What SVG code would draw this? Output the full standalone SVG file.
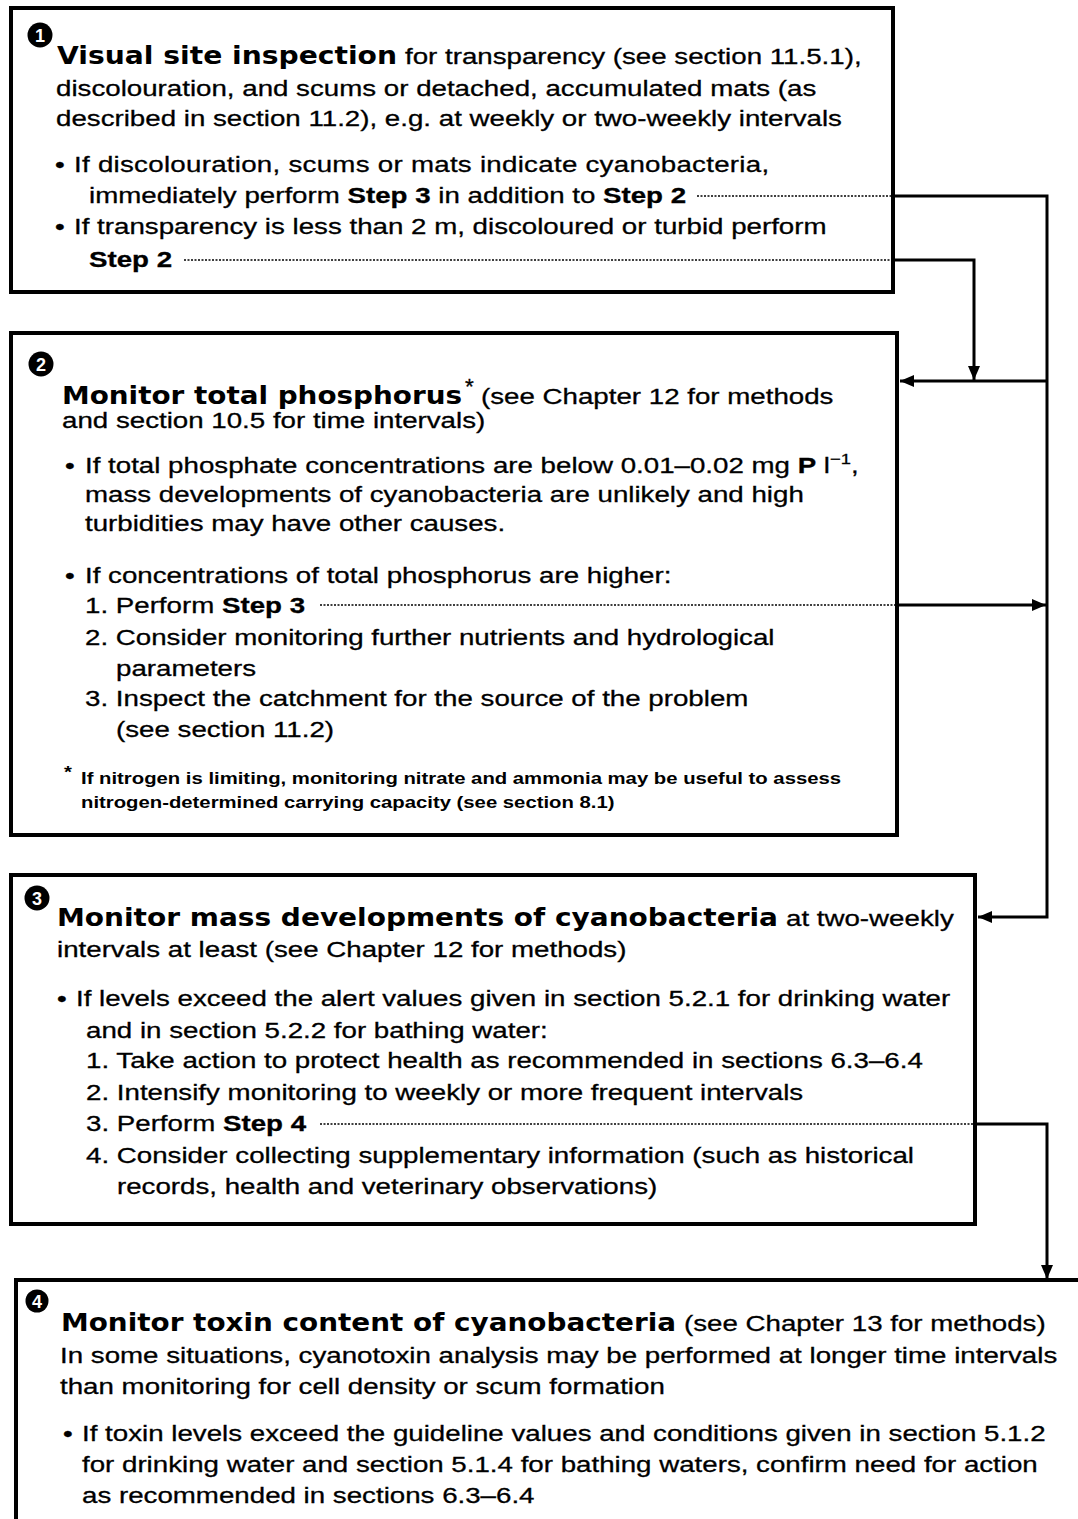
<svg xmlns="http://www.w3.org/2000/svg" width="1078" height="1519" viewBox="0 0 1078 1519">
<defs>
<style>
.box{fill:#fff;stroke:#000;stroke-width:4}
.t{font-family:"Liberation Sans",Arial,sans-serif;font-size:22.6px;fill:#000;stroke:#000;stroke-width:0.3}
.h{font-family:"DejaVu Sans",sans-serif;font-weight:bold;font-size:24px;fill:#000}
.b{font-weight:bold}
.fn{font-family:"Liberation Sans",Arial,sans-serif;font-weight:bold;font-size:16px;fill:#000}
.num{font-family:"Liberation Sans",Arial,sans-serif;font-weight:bold;font-size:18px;fill:#fff;text-anchor:middle}
.ln{fill:none;stroke:#000;stroke-width:3}
.dot{fill:none;stroke:#000;stroke-width:1.6;stroke-dasharray:2 1.5}
</style>
<marker id="ah" markerUnits="userSpaceOnUse" markerWidth="14" markerHeight="12" viewBox="0 0 14 12" refX="14" refY="6" orient="auto">
<path d="M0,0 L14,6 L0,12 z" fill="#000"/>
</marker>
</defs>
<rect width="1078" height="1519" fill="#fff"/>

<g id="step1">
<rect class="box" x="11" y="8" width="882" height="284"/>
<circle cx="40" cy="35" r="12.5" fill="#000"/>
<text class="num" x="40" y="41.5">1</text>
<text class="h" x="57" y="64" textLength="340" lengthAdjust="spacingAndGlyphs">Visual site inspection</text>
<text class="t" transform="matrix(1.226 0 0 1 405 64)">for transparency (see section 11.5.1),</text>
<text class="t" transform="matrix(1.226 0 0 1 56 96)">discolouration, and scums or detached, accumulated mats (as</text>
<text class="t" transform="matrix(1.226 0 0 1 56 126)">described in section 11.2), e.g. at weekly or two-weekly intervals</text>
<text class="t" transform="matrix(1.226 0 0 1 55 172)">•</text>
<text class="t" transform="matrix(1.226 0 0 1 74 172)" textLength="567" lengthAdjust="spacing">If discolouration, scums or mats indicate cyanobacteria,</text>
<text class="t" transform="matrix(1.226 0 0 1 89 203)">immediately perform <tspan class="b">Step 3</tspan> in addition to <tspan class="b">Step 2</tspan></text>
<text class="t" transform="matrix(1.226 0 0 1 55 234)">•</text>
<text class="t" transform="matrix(1.226 0 0 1 74 234)">If transparency is less than 2 m, discoloured or turbid perform</text>
<text class="t" transform="matrix(1.226 0 0 1 89 267)"><tspan class="b">Step 2</tspan></text>
</g>

<g id="step2">
<rect class="box" x="11" y="333" width="886" height="502"/>
<circle cx="41" cy="364" r="12.5" fill="#000"/>
<text class="num" x="41" y="370.5">2</text>
<text class="h" x="62" y="404" textLength="400" lengthAdjust="spacingAndGlyphs">Monitor total phosphorus</text>
<text class="t" x="465" y="394" font-size="15">*</text>
<text class="t" transform="matrix(1.226 0 0 1 481 404)">(see Chapter 12 for methods</text>
<text class="t" transform="matrix(1.226 0 0 1 62 428)">and section 10.5 for time intervals)</text>
<text class="t" transform="matrix(1.226 0 0 1 65 473)">•</text>
<text class="t" transform="matrix(1.226 0 0 1 85 473)">If total phosphate concentrations are below 0.01–0.02 mg <tspan class="b">P</tspan> l<tspan font-size="15" dy="-9">−1</tspan><tspan dy="9">,</tspan></text>
<text class="t" transform="matrix(1.226 0 0 1 85 502)">mass developments of cyanobacteria are unlikely and high</text>
<text class="t" transform="matrix(1.226 0 0 1 85 531)">turbidities may have other causes.</text>
<text class="t" transform="matrix(1.226 0 0 1 65 583)">•</text>
<text class="t" transform="matrix(1.226 0 0 1 85 583)">If concentrations of total phosphorus are higher:</text>
<text class="t" transform="matrix(1.226 0 0 1 85 613)">1. Perform <tspan class="b">Step 3</tspan></text>
<text class="t" transform="matrix(1.226 0 0 1 85 645)">2. Consider monitoring further nutrients and hydrological</text>
<text class="t" transform="matrix(1.226 0 0 1 116 676)">parameters</text>
<text class="t" transform="matrix(1.226 0 0 1 85 706)">3. Inspect the catchment for the source of the problem</text>
<text class="t" transform="matrix(1.226 0 0 1 116 737)">(see section 11.2)</text>
<text class="fn" transform="matrix(1.27 0 0 1 64 778)">*</text>
<text class="fn" transform="matrix(1.27 0 0 1 81 784)">If nitrogen is limiting, monitoring nitrate and ammonia may be useful to assess</text>
<text class="fn" transform="matrix(1.27 0 0 1 81 808)">nitrogen-determined carrying capacity (see section 8.1)</text>
</g>

<g id="step3">
<rect class="box" x="11" y="875" width="964" height="349"/>
<circle cx="37" cy="898" r="12.5" fill="#000"/>
<text class="num" x="37" y="904.5">3</text>
<text class="h" x="57" y="926" textLength="721" lengthAdjust="spacingAndGlyphs">Monitor mass developments of cyanobacteria</text>
<text class="t" transform="matrix(1.226 0 0 1 786 926)">at two-weekly</text>
<text class="t" transform="matrix(1.226 0 0 1 57 957)">intervals at least (see Chapter 12 for methods)</text>
<text class="t" transform="matrix(1.226 0 0 1 57 1006)">•</text>
<text class="t" transform="matrix(1.226 0 0 1 76 1006)">If levels exceed the alert values given in section 5.2.1 for drinking water</text>
<text class="t" transform="matrix(1.226 0 0 1 86 1038)">and in section 5.2.2 for bathing water:</text>
<text class="t" transform="matrix(1.226 0 0 1 86 1068)">1. Take action to protect health as recommended in sections 6.3–6.4</text>
<text class="t" transform="matrix(1.226 0 0 1 86 1100)">2. Intensify monitoring to weekly or more frequent intervals</text>
<text class="t" transform="matrix(1.226 0 0 1 86 1131)">3. Perform <tspan class="b">Step 4</tspan></text>
<text class="t" transform="matrix(1.226 0 0 1 86 1163)">4. Consider collecting supplementary information (such as historical</text>
<text class="t" transform="matrix(1.226 0 0 1 117 1194)">records, health and veterinary observations)</text>
</g>

<g id="step4">
<rect class="box" x="16" y="1280" width="1080" height="280"/>
<circle cx="37" cy="1301" r="11.5" fill="#000"/>
<text class="num" x="37" y="1307.5">4</text>
<text class="h" x="61" y="1331" textLength="615" lengthAdjust="spacingAndGlyphs">Monitor toxin content of cyanobacteria</text>
<text class="t" transform="matrix(1.226 0 0 1 684 1331)">(see Chapter 13 for methods)</text>
<text class="t" transform="matrix(1.226 0 0 1 60 1363)">In some situations, cyanotoxin analysis may be performed at longer time intervals</text>
<text class="t" transform="matrix(1.226 0 0 1 60 1394)">than monitoring for cell density or scum formation</text>
<text class="t" transform="matrix(1.226 0 0 1 63 1441)">•</text>
<text class="t" transform="matrix(1.226 0 0 1 82 1441)">If toxin levels exceed the guideline values and conditions given in section 5.1.2</text>
<text class="t" transform="matrix(1.226 0 0 1 82 1472)">for drinking water and section 5.1.4 for bathing waters, confirm need for action</text>
<text class="t" transform="matrix(1.226 0 0 1 82 1503)">as recommended in sections 6.3–6.4</text>
</g>

<g id="connectors">
<line class="dot" x1="697" y1="196" x2="893" y2="196"/>
<line class="dot" x1="184" y1="260" x2="893" y2="260"/>
<line class="dot" x1="320" y1="605" x2="897" y2="605"/>
<line class="dot" x1="320" y1="1124" x2="975" y2="1124"/>
<path class="ln" d="M893,196 H1047 V917 H978" marker-end="url(#ah)"/>
<path class="ln" d="M1047,381 H900" marker-end="url(#ah)"/>
<path class="ln" d="M893,260 H974 V380" marker-end="url(#ah)"/>
<path class="ln" d="M897,605 H1046" marker-end="url(#ah)"/>
<path class="ln" d="M975,1124 H1047 V1279" marker-end="url(#ah)"/>
</g>
</svg>
